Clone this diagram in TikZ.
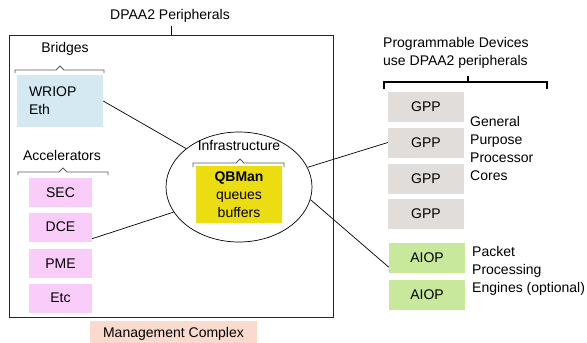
\documentclass[tikz,border=0pt]{standalone}
\usepackage{fontspec}
\setmainfont{Liberation Sans}
\usetikzlibrary{shapes.geometric}
\definecolor{BridgeBlue}{RGB}{212,233,241}
\definecolor{AccelPink}{RGB}{250,204,250}
\definecolor{QBYellow}{RGB}{236,221,18}
\definecolor{MgmtPeach}{RGB}{250,218,204}
\definecolor{GPPGrey}{RGB}{224,221,219}
\definecolor{AIOPGreen}{RGB}{200,233,155}
\definecolor{bracegrey}{RGB}{90,90,90}

\begin{document}
\begin{tikzpicture}[
  x=1pt, y=-1pt,
  font=\fontsize{14}{18}\selectfont,
  block/.style={inner sep=0pt, minimum height=30pt},
  accel/.style={block, fill=AccelPink, minimum width=63pt, minimum height=29pt},
  gpp/.style={block, fill=GPPGrey, minimum width=76pt},
  aiop/.style={block, fill=AIOPGreen, minimum width=76pt},
  link/.style={draw, line width=0.7pt},
  bracket/.style={draw=bracegrey, line width=0.8pt},
  sidelabel/.style={align=left, anchor=west, inner sep=0pt},
]
\useasboundingbox (0,0) rectangle (587,343);

% Peripherals frame
\node[draw=black!85, line width=1pt, inner sep=0pt, minimum width=324pt, minimum height=282pt] (periph) at (171,176) {};
\node (title) at (170,16) {DPAA2 Peripherals};
\draw[line width=0.8pt] (periph.north) -- ++(0,-9);

% Bridges
\node (bridgelbl) at (65,49) {Bridges};
\draw[bracket] (15,73) -- (15,70) -- (56,70) -- (60,66) -- (64,70) -- (104,70) -- (104,73);
\node[block, fill=BridgeBlue, minimum width=86pt, minimum height=52pt, text width=62pt, inner xsep=12pt, align=left] (wriop) at (60,101) {WRIOP\\Eth};

% Accelerators
\node (accellbl) at (62,155) {Accelerators};
\draw[bracket] (18,175) -- (18,172) -- (59,172) -- (63,168) -- (67,172) -- (108,172) -- (108,175);
\node[accel] (sec) at (60.5,192.5) {SEC};
\node[accel] (dce) at (60.5,227) {DCE};
\node[accel] (pme) at (60.5,263.5) {PME};
\node[accel] (etc) at (60.5,298) {Etc};

% Infrastructure
\node[draw, ellipse, line width=0.7pt, inner sep=0pt, minimum width=146pt, minimum height=110pt] (infra) at (239,187) {};
\node (infralbl) at (239,146) {Infrastructure};
\draw[bracket] (193,167) -- (193,163) -- (236,163) -- (240,159) -- (244,163) -- (284,163) -- (284,167);
\node[block, fill=QBYellow, minimum width=86pt, minimum height=57pt, align=center] (qbman) at (239,194.5) {\textbf{QBMan}\\queues\\buffers};

% Management Complex
\node[block, fill=MgmtPeach, minimum width=167pt, minimum height=26pt] (mgmt) at (173.5,334) {Management Complex};

% Programmable devices
\node[sidelabel, anchor=north west] (proglbl) at (383,37) {Programmable Devices\\use DPAA2 peripherals};
\draw[line width=1.6pt] (384,89) -- (384,82) -- (547,82) -- (547,89);
\draw[line width=1.6pt] (468,82) -- (468,76);

\node[gpp] (gpp1) at (426,107) {GPP};
\node[gpp] (gpp2) at (426,142.5) {GPP};
\node[gpp] (gpp3) at (426,179) {GPP};
\node[gpp] (gpp4) at (426,214) {GPP};
\node[sidelabel] (gpplbl) at (470,148) {General\\Purpose\\Processor\\Cores};

\node[aiop] (aiop1) at (427,258) {AIOP};
\node[aiop] (aiop2) at (427,294.5) {AIOP};
\node[sidelabel] (aioplbl) at (472,271) {Packet\\Processing\\Engines (optional)};

% Links
\draw[link] (wriop.east) -- (infra.144);
\draw[link] ([yshift=3pt]dce.south east) -- (infra.201);
\draw[link] (infra.16) -- (gpp2.west);
\draw[link] (infra.-10) -- ([yshift=6pt]aiop1.south west);

\end{tikzpicture}
\end{document}
